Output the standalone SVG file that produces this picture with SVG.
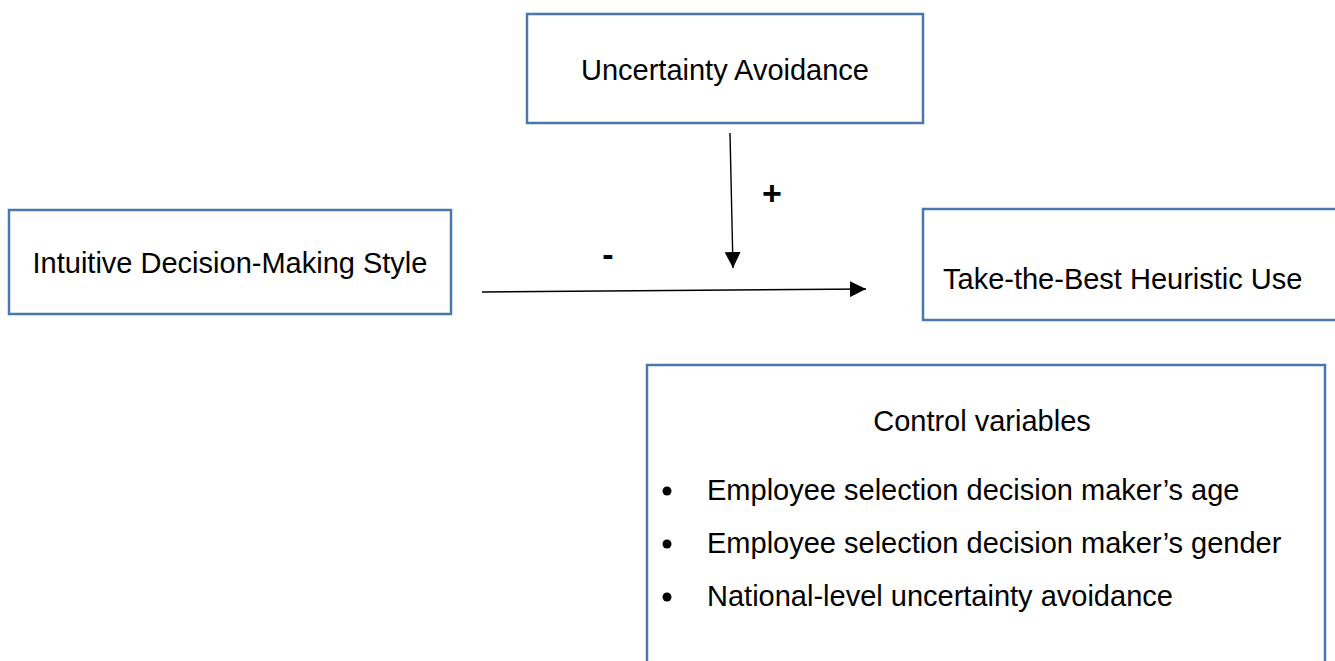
<svg xmlns="http://www.w3.org/2000/svg" width="1335" height="661" viewBox="0 0 1335 661">
  <style>
    .box { fill: #ffffff; stroke: #4a78ac; stroke-width: 2.5; }
    .lbl { font-family: "Liberation Sans", Arial, sans-serif; font-size: 29px; fill: #000000; }
    .sign { font-family: "Liberation Sans", Arial, sans-serif; font-size: 34px; font-weight: bold; fill: #000000; text-anchor: middle; }
    .edge { stroke: #000000; stroke-width: 1.4; fill: none; }
  </style>
  <defs>
    <marker id="arrow" viewBox="0 0 16 16" refX="16" refY="8" markerWidth="16" markerHeight="16" markerUnits="userSpaceOnUse" orient="auto">
      <path d="M0,0 L16,8 L0,16 Z" fill="#000000"/>
    </marker>
  </defs>

  <rect width="1335" height="661" fill="#ffffff"/>

  <!-- Moderator -->
  <g id="uncertainty-avoidance">
    <rect class="box" x="527" y="14" width="396" height="109"/>
    <text class="lbl" x="725" y="80" text-anchor="middle">Uncertainty Avoidance</text>
  </g>

  <!-- Predictor -->
  <g id="intuitive-style">
    <rect class="box" x="9" y="210" width="442" height="104"/>
    <text class="lbl" x="230" y="273" text-anchor="middle">Intuitive Decision-Making Style</text>
  </g>

  <!-- Outcome -->
  <g id="take-the-best">
    <rect class="box" x="923" y="209" width="420" height="111"/>
    <text class="lbl" x="943" y="289">Take-the-Best Heuristic Use</text>
  </g>

  <!-- Controls -->
  <g id="control-variables">
    <rect class="box" x="647" y="365" width="678" height="310"/>
    <text class="lbl" x="982" y="431" text-anchor="middle">Control variables</text>
    <circle cx="667" cy="491" r="4.5" fill="#000000"/>
    <text class="lbl" x="707" y="500">Employee selection decision maker’s age</text>
    <circle cx="667" cy="544" r="4.5" fill="#000000"/>
    <text class="lbl" x="707" y="553">Employee selection decision maker’s gender</text>
    <circle cx="667" cy="597" r="4.5" fill="#000000"/>
    <text class="lbl" x="707" y="606">National-level uncertainty avoidance</text>
  </g>

  <!-- Paths with signs -->
  <g id="connectors">
    <line class="edge" x1="730" y1="133" x2="733" y2="268" marker-end="url(#arrow)"/>
    <line class="edge" x1="482" y1="292" x2="866" y2="289" marker-end="url(#arrow)"/>
    <text class="sign" x="772" y="205">+</text>
    <text class="sign" x="608" y="266">-</text>
  </g>
</svg>
